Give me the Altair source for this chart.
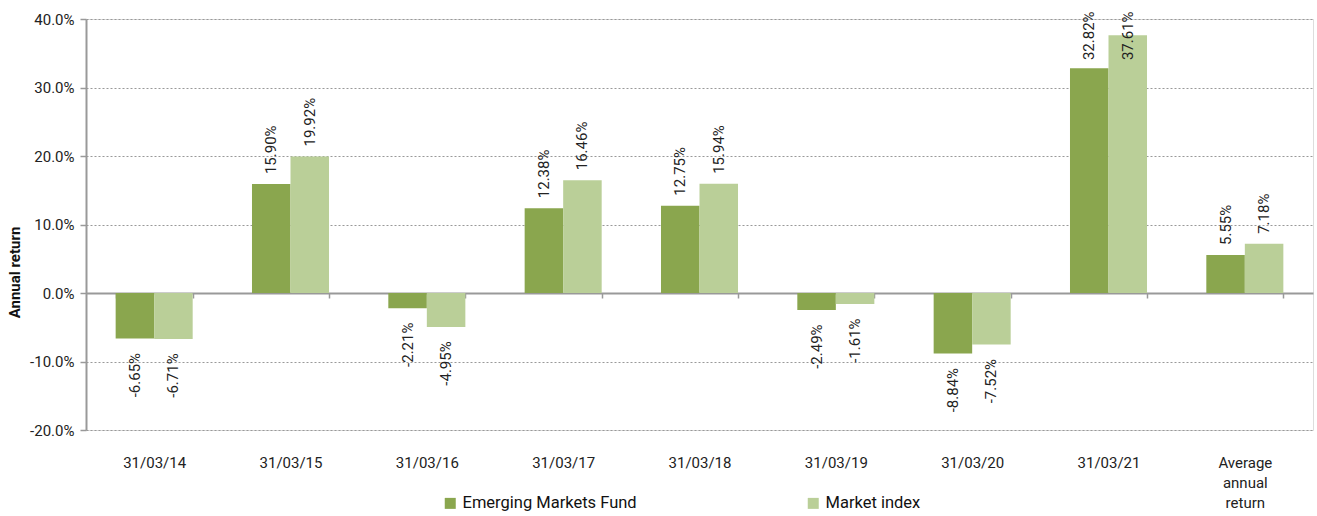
import altair as alt
import pandas as pd

categories = ["31/03/14", "31/03/15", "31/03/16", "31/03/17", "31/03/18",
              "31/03/19", "31/03/20", "31/03/21", "Average annual return"]
fund = [-6.65, 15.90, -2.21, 12.38, 12.75, -2.49, -8.84, 32.82, 5.55]
index = [-6.71, 19.92, -4.95, 16.46, 15.94, -1.61, -7.52, 37.61, 7.18]
series = ["Emerging Markets Fund", "Market index"]
colors = ["#8AA64E", "#BACF98"]

rows = []
for c, f, m in zip(categories, fund, index):
    rows.append({"cat": c, "series": series[0], "val": f / 100})
    rows.append({"cat": c, "series": series[1], "val": m / 100})
df = pd.DataFrame(rows)

FONT = "Roboto"
MINUS = "\u2212"
pad = 0.435

x_enc = alt.X("cat:N", sort=categories, title=None,
              scale=alt.Scale(paddingInner=pad, paddingOuter=pad / 2),
              axis=alt.Axis(offset=-137, domainColor="#999999", domainWidth=2,
                            tickColor="#999999", tickWidth=1.5, tickSize=5,
                            tickBand="extent", labelAngle=0, labelPadding=157,
                            labelFontSize=15, labelColor="#222222", labelFont=FONT,
                            labelLineHeight=20,
                            labelExpr="datum.label == 'Average annual return' ? ['Average','annual','return'] : datum.label",
                            grid=False))
y_scale = alt.Scale(domain=[-0.2, 0.4], nice=False)
xoff = alt.XOffset("series:N", sort=series)

bars = alt.Chart(df).mark_bar().encode(
    x=x_enc,
    xOffset=xoff,
    y=alt.Y("val:Q", scale=y_scale, title="Annual return",
            axis=alt.Axis(format=".1%", values=[-0.2, -0.1, 0, 0.1, 0.2, 0.3, 0.4],
                          labelExpr="replace(datum.label, '" + MINUS + "', '-')",
                          domainColor="#999999", domainWidth=2,
                          tickColor="#999999", tickSize=6, tickWidth=1.5,
                          gridColor="#999999", gridDash=[2, 2], gridWidth=1,
                          labelFontSize=15, labelColor="#222222", labelFont=FONT,
                          labelPadding=6,
                          titleFont=FONT, titleFontSize=15, titleFontWeight="bold",
                          titleColor="#111111", titleX=-72, titleY=253,
                          titleAngle=270, titleAlign="center", titleBaseline="middle")),
    color=alt.Color("series:N", sort=series,
                    scale=alt.Scale(domain=series, range=colors),
                    legend=alt.Legend(title=None, orient="none", direction="horizontal",
                                      legendX=356, legendY=476,
                                      symbolType="square", symbolSize=121,
                                      symbolStrokeWidth=0, labelOffset=4,
                                      labelFont=FONT, labelFontSize=16.5,
                                      labelColor="#111111", columnPadding=168,
                                      labelLimit=400)),
)

label_base = alt.Chart(df).transform_calculate(
    lbl="replace(format(datum.val, '.2%'), '" + MINUS + "', '-')"
)

pos_labels = label_base.transform_filter("datum.val >= 0").transform_calculate(
    ly="min(datum.val + 0.0146, 0.34)"
).mark_text(
    angle=270, align="left", baseline="middle", font=FONT, fontSize=15,
    color="#222222"
).encode(
    x=alt.X("cat:N", sort=categories),
    xOffset=xoff,
    y=alt.Y("ly:Q", scale=y_scale),
    text="lbl:N",
)

neg_labels = label_base.transform_filter("datum.val < 0").transform_calculate(
    ly="datum.val - 0.021"
).mark_text(
    angle=270, align="right", baseline="middle", font=FONT, fontSize=15,
    color="#222222"
).encode(
    x=alt.X("cat:N", sort=categories),
    xOffset=xoff,
    y=alt.Y("ly:Q", scale=y_scale),
    text="lbl:N",
)

chart = alt.layer(bars, pos_labels, neg_labels).properties(
    width=1227, height=411,
    autosize=alt.AutoSizeParams(type="none"),
    padding={"left": 86, "top": 19, "right": 4, "bottom": 86},
).configure_view(stroke=None).configure(background="white")

chart.save("out.html", embed_options={"renderer": "svg", "actions": False})
